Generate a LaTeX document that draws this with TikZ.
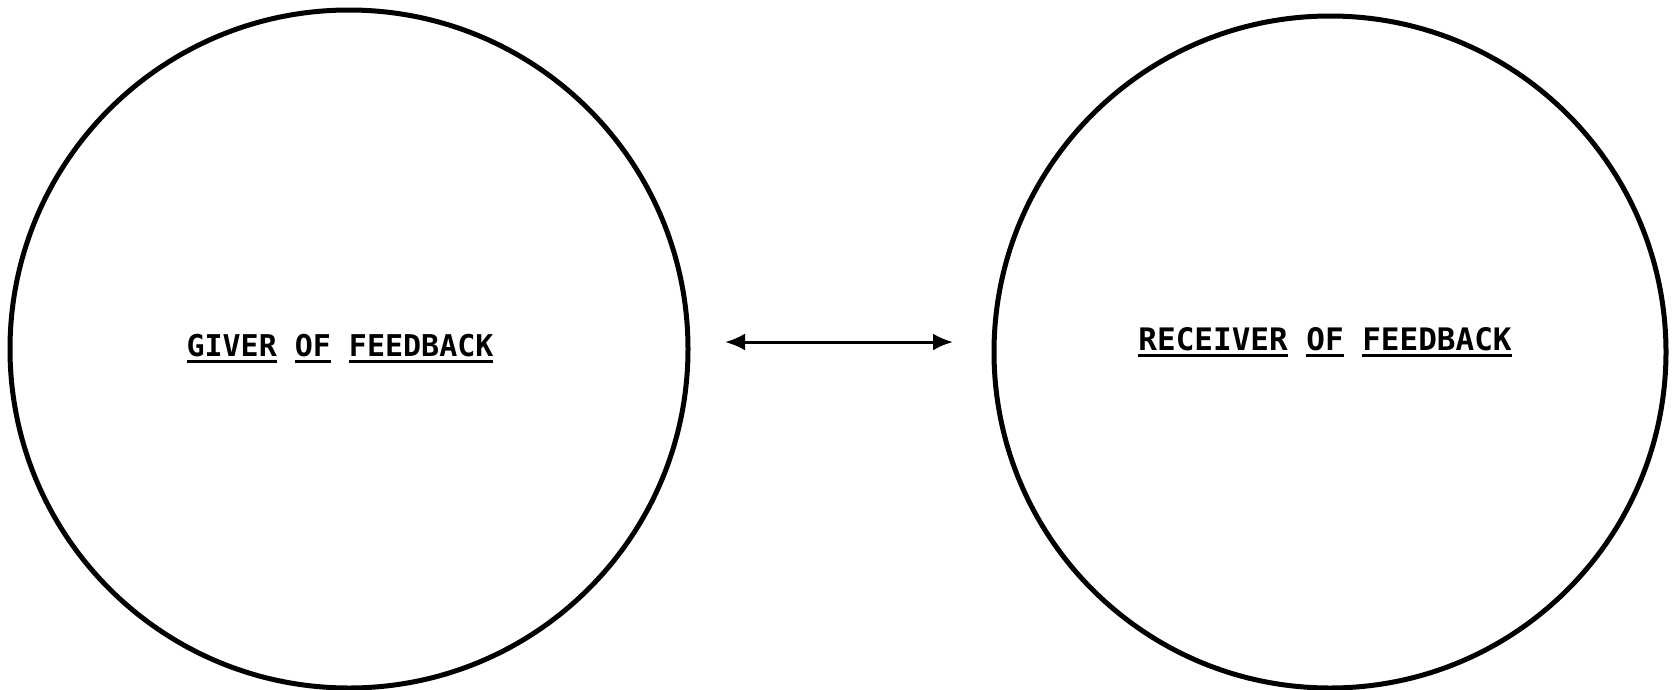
\documentclass[tikz,border=0pt]{standalone}
\usepackage{fontspec}
\setmonofont{DejaVu Sans Mono}
\usetikzlibrary{arrows.meta}
\newcommand\wordul[1]{\setbox0\hbox{#1}\rlap{\rule[-7pt]{\wd0}{2.6pt}}\box0}
\newcommand\wsp{\hspace*{0.6em}}
\tikzset{
  ring/.style={circle, draw, line width=5pt, inner sep=0pt},
  lbl/.style={font=\fontsize{30}{36}\selectfont\ttfamily\bfseries, anchor=base, inner sep=0pt}
}
\begin{document}
\begin{tikzpicture}[x=1pt,y=-1pt]
\useasboundingbox (0,0) rectangle (1673,689);
\node[ring, minimum size=678pt] (giver) at (349,349) {};
\node[ring, minimum size=672pt] (receiver) at (1330,352) {};
\node[lbl] (gtext) at (340,356) {\wordul{GIVER}\wsp\wordul{OF}\wsp\wordul{FEEDBACK}};
\node[lbl, font=\fontsize{31}{36}\selectfont\ttfamily\bfseries] (rtext) at (1325,350) {\wordul{RECEIVER}\wsp\wordul{OF}\wsp\wordul{FEEDBACK}};
\coordinate (al) at (725,342);
\coordinate (ar) at (953,342);
\draw[{Latex[length=20pt,width=17pt]}-{Latex[length=20pt,width=17pt]}, line width=3pt] (al) -- (ar);
\end{tikzpicture}
\end{document}
